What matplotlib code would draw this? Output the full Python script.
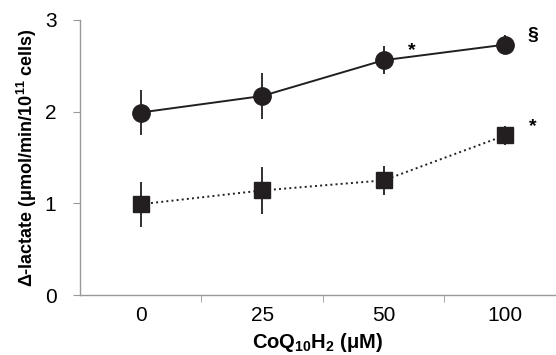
import matplotlib
matplotlib.use("Agg")
import matplotlib.pyplot as plt

plt.rcParams["font.family"] = ["Liberation Sans", "DejaVu Sans"]
plt.rcParams["mathtext.fontset"] = "custom"
plt.rcParams["mathtext.rm"] = "Liberation Sans"
plt.rcParams["mathtext.bf"] = "Liberation Sans:bold"

# data
conc_labels = ["0", "25", "50", "100"]
circle_vals = [1.99, 2.17, 2.56, 2.73]
circle_err = [0.24, 0.25, 0.15, 0.10]
square_vals = [0.99, 1.14, 1.25, 1.74]
square_err = [0.245, 0.26, 0.155, 0.10]
marks = [(2, 2.56, "*"), (3, 2.73, "§"), (3, 1.74, "*")]

xs = list(range(len(conc_labels)))

fig = plt.figure(figsize=(5.56, 3.55), dpi=100)
ax = fig.add_axes([0.144, 0.169, 0.856, 0.775])

ax.errorbar(xs, circle_vals, yerr=circle_err, fmt="o-", color="#231f20",
            ms=12.5, lw=1.4, elinewidth=1.3, capsize=0)
ax.errorbar(xs, square_vals, yerr=square_err, fmt="s", ls=":", color="#231f20",
            ms=12, lw=1.4, elinewidth=1.3, capsize=0)

for x, y, s in marks:
    ax.text(x + 0.23, y + 0.1, s, fontsize=14, fontweight="bold",
            ha="center", va="center")

ax.set_xlim(-0.5, 3.42)
ax.set_ylim(0, 3)
ax.set_yticks([0, 1, 2, 3])
ax.set_xticks(xs)
ax.set_xticklabels(conc_labels)
ax.set_xticks([0.5, 1.5, 2.5], minor=True)
ax.tick_params(axis="x", which="major", length=0, labelsize=15, pad=8)
ax.tick_params(axis="x", which="minor", length=5, color="#999999", direction="out")
ax.tick_params(axis="y", length=5, color="#999999", labelsize=15, pad=12)

for side in ["top", "right"]:
    ax.spines[side].set_visible(False)
for side in ["left", "bottom"]:
    ax.spines[side].set_color("#999999")
    ax.spines[side].set_linewidth(1.0)

ax.set_xlabel(r"CoQ$_{\mathbf{10}}$H$_{\mathbf{2}}$ ($\mathbf{\mu}$M)",
              fontsize=14.5, fontweight="bold", labelpad=4)
ax.set_ylabel(r"Δ-lactate (μmol/min/10$^{\mathbf{11}}$ cells)",
              fontsize=13, fontweight="bold", labelpad=4)

fig.savefig("out.png", dpi=100)
